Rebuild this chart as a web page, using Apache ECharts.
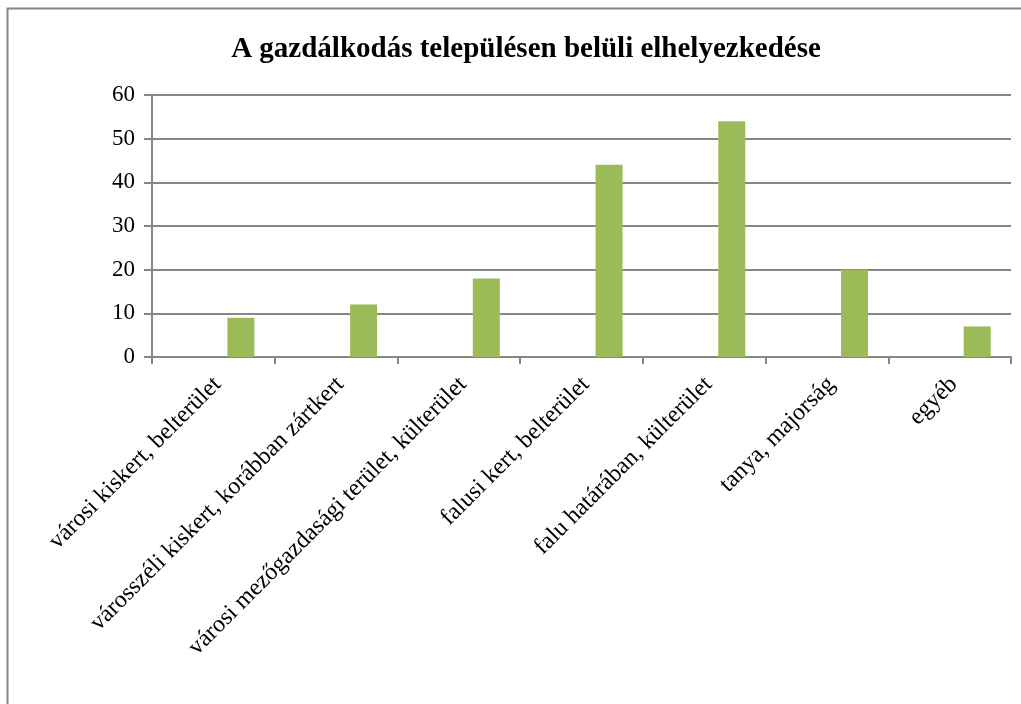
<!DOCTYPE html>
<html>
<head>
<meta charset="utf-8">
<script src="https://cdn.jsdelivr.net/npm/echarts@6/dist/echarts.min.js"></script>
<style>
  html, body { margin: 0; padding: 0; background: #fff; }
  #chart { width: 1021px; height: 704px; }
</style>
</head>
<body>
<div id="chart"></div>
<script>
const categories = [
  'városi kiskert, belterület',
  'városszéli kiskert, korábban zártkert',
  'városi mezőgazdasági terület, külterület',
  'falusi kert, belterület',
  'falu határában, külterület',
  'tanya, majorság',
  'egyéb'
]
const values = [9, 12, 18, 44, 54, 20, 7]
const emptySeries = ['-', '-', '-', '-', '-', '-', '-']
const yTicks = { min: 0, max: 60, interval: 10 }

const serif = '"Liberation Serif", "DejaVu Serif", serif'
const chart = echarts.init(document.getElementById('chart'))

chart.setOption({
  animation: false,
  title: {
    text: 'A gazdálkodás településen belüli elhelyezkedése',
    left: 521,
    top: 30,
    textAlign: 'center',
    textStyle: { fontFamily: serif, fontSize: 29, fontWeight: 'bold', color: '#000' }
  },
  graphic: [{
    type: 'rect',
    shape: { x: 7.5, y: 8.5, width: 1100, height: 800 },
    style: { fill: 'none', stroke: '#878787', lineWidth: 2 },
    silent: true
  }],
  grid: { left: 152, right: 10, top: 95, bottom: 347, containLabel: false },
  xAxis: {
    type: 'category',
    data: categories,
    axisLine: { lineStyle: { color: '#868686', width: 2 } },
    axisTick: { show: true, length: 7, lineStyle: { color: '#868686', width: 2 } },
    axisLabel: {
      interval: 0,
      rotate: 45,
      margin: 28,
      padding: [0, -6, 0, 0],
      fontFamily: serif,
      fontSize: 24,
      color: '#000'
    }
  },
  yAxis: {
    type: 'value',
    min: yTicks.min,
    max: yTicks.max,
    interval: yTicks.interval,
    axisLine: { show: true, lineStyle: { color: '#868686', width: 2 } },
    axisTick: { show: true, length: 8, lineStyle: { color: '#868686', width: 2 } },
    splitLine: { lineStyle: { color: '#868686', width: 2 } },
    axisLabel: { margin: 17, fontFamily: serif, fontSize: 23, color: '#000' }
  },
  series: [
    {
      type: 'bar',
      data: emptySeries,
      barWidth: 27,
      barGap: '104%'
    },
    {
      type: 'bar',
      data: values,
      barWidth: 27,
      barGap: '104%',
      itemStyle: { color: '#9BBB59' }
    }
  ]
})
</script>
</body>
</html>
